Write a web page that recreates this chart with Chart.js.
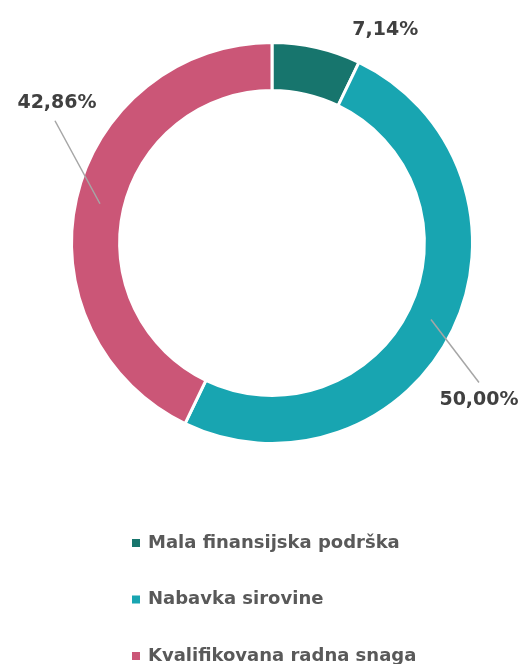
<!DOCTYPE html>
<html>
<head>
<meta charset="utf-8">
<script src="https://cdn.jsdelivr.net/npm/chart.js@4.4.1/dist/chart.umd.min.js"></script>
<style>
  html, body { margin: 0; padding: 0; background: #fff; }
  #wrap { width: 522px; height: 664px; position: relative; }
</style>
</head>
<body>
<div id="wrap"><canvas id="razlozi"></canvas></div>
<script>
const categories = ['Mala finansijska podrška', 'Nabavka sirovine', 'Kvalifikovana radna snaga'];
const shares = [7.14, 50.00, 42.86];
const sliceColors = ['#17756D', '#18A5B1', '#CB5677'];

// where each percent label sits relative to the slice's centre point, and whether it gets a leader line
const labelOffsets = [[74, -41, false], [48, 81, true], [-43, -101, true]];

const FONT = '"DejaVu Sans", sans-serif';

function pct(v) {
  return v.toFixed(2).replace('.', ',') + '%';
}

const labelPlugin = {
  id: 'pctLabels',
  afterDatasetsDraw(chart) {
    const ctx = chart.ctx;
    const meta = chart.getDatasetMeta(0);
    ctx.save();
    meta.data.forEach((arc, i) => {
      const c = arc.getCenterPoint();
      const [dx, dy, line] = labelOffsets[i];
      const lx = c.x + dx, ly = c.y + dy;
      if (line) {
        ctx.strokeStyle = '#A6A6A6';
        ctx.lineWidth = 1.5;
        ctx.beginPath();
        ctx.moveTo(c.x, c.y);
        ctx.lineTo(lx + (dx < 0 ? -2 : 0), ly + (dy < 0 ? 18 : -18));
        ctx.stroke();
      }
      ctx.fillStyle = '#404040';
      ctx.font = 'bold 19px ' + FONT;
      ctx.textAlign = 'center';
      ctx.textBaseline = 'middle';
      ctx.fillText(pct(shares[i]), lx, ly);
    });
    ctx.restore();
  }
};

const legendPlugin = {
  id: 'sideLegend',
  afterDraw(chart) {
    const ctx = chart.ctx;
    const ds = chart.data.datasets[0];
    ctx.save();
    chart.data.labels.forEach((lab, i) => {
      const y = 543 + i * 56.5;
      ctx.fillStyle = ds.backgroundColor[i];
      ctx.fillRect(132, y - 4, 8, 8);
      ctx.fillStyle = '#595959';
      ctx.font = 'bold 18px ' + FONT;
      ctx.textAlign = 'left';
      ctx.textBaseline = 'middle';
      ctx.fillText(lab, 148, y);
    });
    ctx.restore();
  }
};

new Chart(document.getElementById('razlozi'), {
  type: 'doughnut',
  data: {
    labels: categories,
    datasets: [{
      data: shares,
      backgroundColor: sliceColors,
      borderColor: '#ffffff',
      borderWidth: 3,
      hoverOffset: 0
    }]
  },
  options: {
    responsive: true,
    maintainAspectRatio: false,
    animation: false,
    cutout: '76%',
    layout: { padding: { left: 70, right: 48, top: 41, bottom: 219 } },
    plugins: {
      legend: { display: false },
      tooltip: { enabled: false }
    }
  },
  plugins: [labelPlugin, legendPlugin]
});
</script>
</body>
</html>
